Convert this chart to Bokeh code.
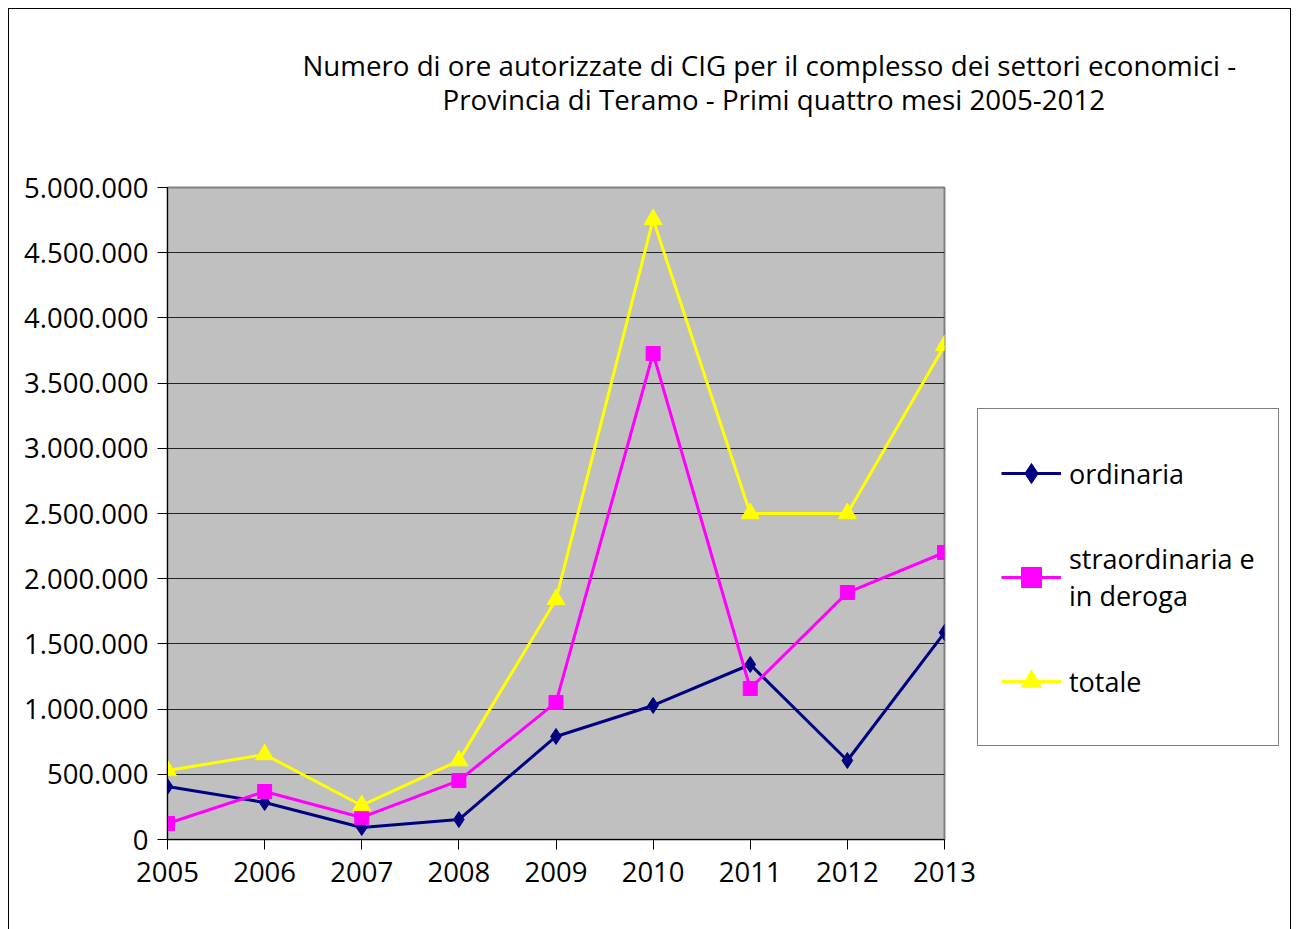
from bokeh.plotting import figure
from bokeh.models import Range1d, FixedTicker, Legend, LegendItem, Title
from bokeh.embed import file_html
from bokeh.resources import INLINE

years = [2005, 2006, 2007, 2008, 2009, 2010, 2011, 2012, 2013]
ordinaria = [406000, 284000, 92000, 153000, 790000, 1028000, 1342000, 606000, 1587000]
straordinaria = [123000, 368000, 169000, 452000, 1051000, 3727000, 1158000, 1894000, 2201000]
totale = [529000, 652000, 261000, 605000, 1841000, 4755000, 2500000, 2500000, 3788000]

y_ticks = [0, 500000, 1000000, 1500000, 2000000, 2500000, 3000000, 3500000, 4000000, 4500000, 5000000]
y_tick_labels = ["0", "500.000", "1.000.000", "1.500.000", "2.000.000", "2.500.000",
                 "3.000.000", "3.500.000", "4.000.000", "4.500.000", "5.000.000"]
x_tick_labels = [str(y) for y in years]

title_line1 = "Numero di ore autorizzate di CIG per il complesso dei settori economici -"
title_line2 = "Provincia di Teramo - Primi quattro mesi 2005-2012"
series_names = ["ordinaria", "straordinaria e\nin deroga", "totale"]

FONT = "Open Sans"

p = figure(width=1282, height=920, frame_width=777, frame_height=652,
           output_backend="svg", toolbar_location=None,
           x_range=Range1d(years[0], years[-1]), y_range=Range1d(y_ticks[0], y_ticks[-1]),
           min_border_left=158, min_border_right=0, min_border_top=178, min_border_bottom=90)
p.styles = {"border-top": "1px solid #000", "border-left": "1px solid #000",
            "border-right": "1px solid #000", "margin-left": "8px", "margin-top": "8px",
            "width": "1283px", "max-width": "1283px", "overflow": "hidden"}

p.background_fill_color = "#C0C0C0"
p.border_fill_color = "white"
p.outline_line_color = "#808080"
p.outline_line_width = 2

p.xgrid.visible = False
p.ygrid.grid_line_color = "#222222"
p.ygrid.grid_line_width = 1
p.ygrid.ticker = FixedTicker(ticks=y_ticks)

p.xaxis.ticker = FixedTicker(ticks=years)
p.xaxis.major_label_overrides = {y: l for y, l in zip(years, x_tick_labels)}
p.yaxis.ticker = FixedTicker(ticks=y_ticks)
p.yaxis.major_label_overrides = {v: l for v, l in zip(y_ticks, y_tick_labels)}

for ax in (p.xaxis[0], p.yaxis[0]):
    ax.axis_line_color = "black"
    ax.axis_line_width = 1
    ax.major_tick_line_color = "black"
    ax.major_tick_out = 10
    ax.major_tick_in = 0
    ax.minor_tick_line_color = None
    ax.major_label_text_font = FONT
    ax.major_label_text_font_size = "27.5px"
    ax.major_label_text_color = "black"
p.xaxis.major_label_standoff = 12
p.yaxis.major_label_standoff = 9

# series
l1 = p.line(years, ordinaria, line_color="#000080", line_width=3)
s1 = p.scatter(years, ordinaria, marker="diamond", size=16,
               fill_color="#000080", line_color="#000080")
l2 = p.line(years, straordinaria, line_color="#FF00FF", line_width=3)
s2 = p.scatter(years, straordinaria, marker="square", size=14,
               fill_color="#FF00FF", line_color="#FF00FF")
l3 = p.line(years, totale, line_color="#FFFF00", line_width=3)
s3 = p.scatter(years, totale, marker="triangle", size=18,
               fill_color="#FFFF00", line_color="#FFFF00")

legend = Legend(items=[LegendItem(label=series_names[0], renderers=[l1, s1]),
                       LegendItem(label=series_names[1], renderers=[l2, s2]),
                       LegendItem(label=series_names[2], renderers=[l3, s3])],
                location=(33, 93), margin=0, padding=23, spacing=22,
                glyph_width=60, glyph_height=50, label_height=82, label_standoff=8,
                label_text_font=FONT, label_text_font_size="27px", label_text_color="black",
                border_line_color="#000000", border_line_width=1,
                background_fill_color="white", background_fill_alpha=1)
p.add_layout(legend, "right")

spacer = Title(text=" ", standoff=0, text_font=FONT, text_font_size="50px")
t2 = Title(text=title_line2, align="left", offset=275, standoff=0,
           text_font=FONT, text_font_size="27.7px", text_font_style="normal", text_color="black")
t1 = Title(text=title_line1, align="left", offset=135, standoff=-12,
           text_font=FONT, text_font_size="27.7px", text_font_style="normal", text_color="black")
p.add_layout(spacer, "above")
p.add_layout(t2, "above")
p.add_layout(t1, "above")

open("out.html", "w").write(file_html(p, INLINE))
